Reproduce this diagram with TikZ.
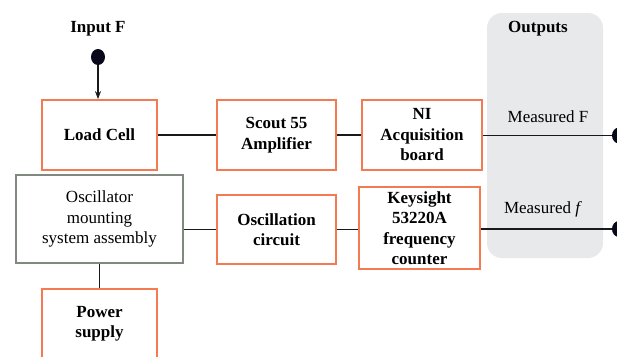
\documentclass[tikz,border=0pt]{standalone}
\usepackage{fontspec}
\setmainfont{Liberation Serif}
\usetikzlibrary{arrows.meta,shapes.geometric}
\definecolor{boxorange}{RGB}{244,122,82}
\definecolor{boxgray}{RGB}{128,136,128}
\definecolor{panelgray}{RGB}{231,233,235}
\definecolor{dotcol}{RGB}{8,10,28}
\tikzset{
  orangebox/.style={draw=boxorange,line width=1.8pt,fill=white,align=center,inner sep=0pt,
    font=\fontsize{17}{20.5}\selectfont\bfseries},
  graybox/.style={draw=boxgray,line width=1.4pt,fill=white,align=center,inner sep=0pt,
    font=\fontsize{17}{20.5}\selectfont},
  wire/.style={line width=1.8pt,draw=black!90},
  enddot/.style={ellipse,fill=dotcol,inner sep=0pt,minimum width=14pt,minimum height=16pt},
  lbl/.style={font=\fontsize{17}{20.5}\selectfont,inner sep=0pt},
  boldlbl/.style={font=\fontsize{17}{20.5}\selectfont\bfseries,inner sep=0pt},
}
\begin{document}
\begin{tikzpicture}[x=1pt,y=-1pt]
\clip (0,0) rectangle (617,356);
\fill[white] (0,0) rectangle (617,356);
% outputs panel
\node[fill=panelgray,rounded corners=15pt,minimum width=116pt,minimum height=245pt,inner sep=0pt] (panel) at (545,135.5) {};
\node[boldlbl] (outputs) at (538,29) {Outputs};
\node[lbl] (mF) at (548,117) {Measured F};
\node[lbl] (mf) at (543,209) {Measured \textit{f}};
% input
\node[boldlbl] (input) at (98,29) {Input F};
\node[enddot] (indot) at (98,57) {};
% boxes
\node[orangebox,minimum width=115pt,minimum height=70pt] (load) at (99.5,135) {Load Cell};
\node[orangebox,minimum width=119pt,minimum height=70pt] (scout) at (276.5,135) {Scout 55\\Amplifier};
\node[orangebox,minimum width=120pt,minimum height=70pt] (ni) at (422,135) {NI\\Acquisition\\board};
\node[graybox,minimum width=167pt,minimum height=88pt] (osc) at (99.5,219) {Oscillator\\mounting\\system assembly};
\node[orangebox,minimum width=119pt,minimum height=69pt] (circ) at (276.5,229.5) {Oscillation\\circuit};
\node[orangebox,minimum width=121pt,minimum height=82pt] (key) at (419.5,228) {Keysight\\53220A\\frequency\\counter};
\node[orangebox,minimum width=115pt,minimum height=70pt] (power) at (99.5,324) {Power\\supply};
% output dots
\node[enddot] (dotF) at (619,135.5) {};
\node[enddot] (dotf) at (619,229) {};
% connectors
\draw[wire,-{Stealth[length=8pt,width=6pt]}] (indot.south) -- (indot.south |- load.north);
\draw[wire] (load.east) -- (scout.west);
\draw[wire] (scout.east) -- (ni.west);
\draw[wire] (ni.east |- dotF.west) -- (dotF.west);
\draw[wire] (osc.east |- circ.west) -- (circ.west);
\draw[wire] (circ.east) -- (key.west |- circ.east);
\draw[wire] (key.east |- dotf.west) -- (dotf.west);
\draw[wire] (osc.south -| power.north) -- (power.north);
\end{tikzpicture}
\end{document}
